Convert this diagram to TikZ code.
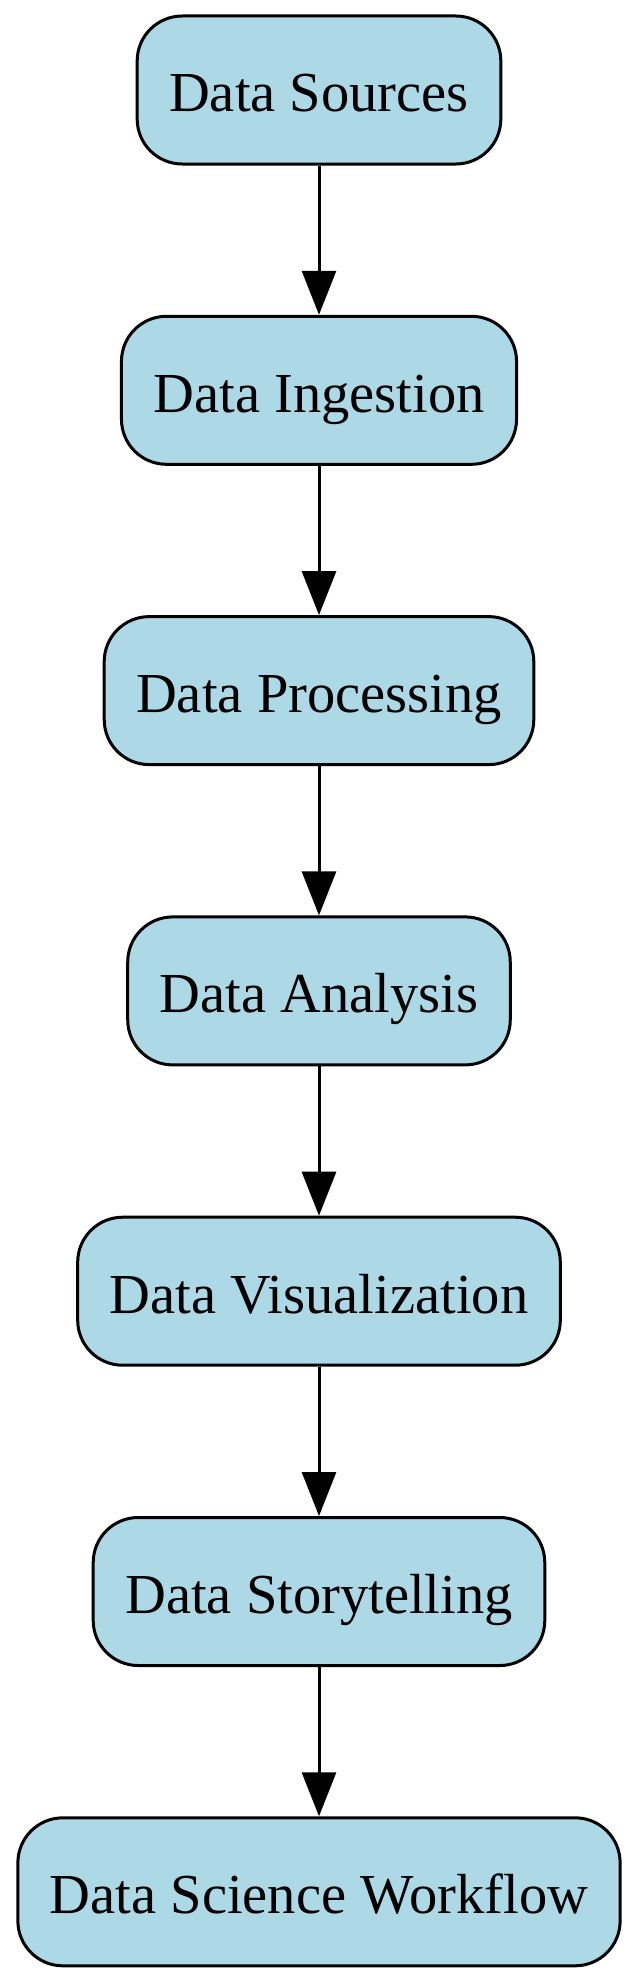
\documentclass[tikz,border=0pt]{standalone}
\usepackage{fontspec}
\setmainfont{Liberation Serif}
\usetikzlibrary{arrows.meta}
\definecolor{boxblue}{HTML}{ADD8E6}
\tikzset{
  flowbox/.style={draw=black, fill=boxblue, line width=3pt, rounded corners=45pt,
    minimum height=148pt, inner xsep=32pt, text height=50pt, text depth=6pt,
    font=\fontsize{56.5}{68}\selectfont},
  flowarrow/.style={draw=black, line width=3pt, -{Triangle[length=44pt,width=34pt]}}
}
\begin{document}
\begin{tikzpicture}[x=1pt,y=1pt]
\useasboundingbox (0,0) rectangle (638,-1983);
\node[flowbox] (n1) at (319,-90) {Data Sources};
\node[flowbox] (n2) at (319,-390.3) {Data Ingestion};
\node[flowbox] (n3) at (319,-690.6) {Data Processing};
\node[flowbox] (n4) at (319,-990.9) {Data Analysis};
\node[flowbox] (n5) at (319,-1291.2) {Data Visualization};
\node[flowbox] (n6) at (319,-1591.5) {Data Storytelling};
\node[flowbox] (n7) at (319,-1891.8) {Data Science Workflow};
\draw[flowarrow] (n1) -- (n2);
\draw[flowarrow] (n2) -- (n3);
\draw[flowarrow] (n3) -- (n4);
\draw[flowarrow] (n4) -- (n5);
\draw[flowarrow] (n5) -- (n6);
\draw[flowarrow] (n6) -- (n7);
\end{tikzpicture}
\end{document}
